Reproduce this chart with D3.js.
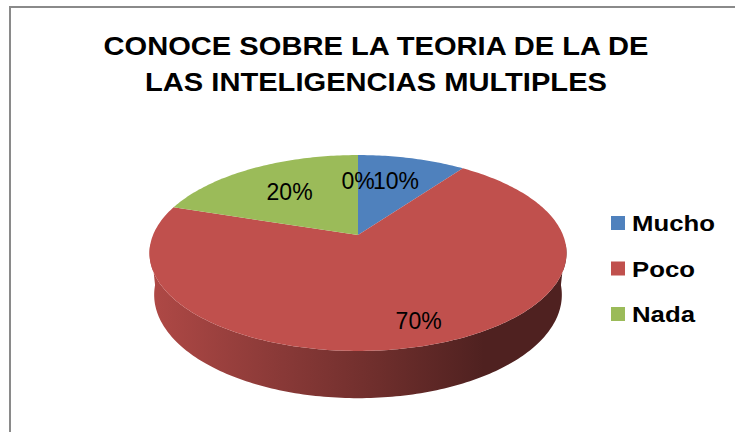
<!DOCTYPE html>
<html>
<head>
<meta charset="utf-8">
<script src="https://cdn.jsdelivr.net/npm/d3@7"></script>
<style>
  body { margin: 0; background: #fff; }
</style>
</head>
<body>
<div id="chart"></div>
<script>
// chart data
var categories = ["Mucho", "Poco", "Nada", ""]
var values = [10, 70, 20, 0]
var colors = ["#4f81bd", "#c0504d", "#9bbb59", "#8064a2"]
var titleLines = ["CONOCE SOBRE LA TEORIA DE LA DE", "LAS INTELIGENCIAS MULTIPLES"]

// where each data label sits, as a fraction of the radius
var labelR = [0.67, 0.82, 0.62, 0.64]

var width = 735, height = 432
var svg = d3.select("#chart").append("svg")
  .attr("width", width)
  .attr("height", height)

// chart area frame (runs off the right / bottom of the picture)
svg.append("rect")
  .attr("x", 10).attr("y", 7)
  .attr("width", 800).attr("height", 500)
  .attr("fill", "#fff")
  .attr("stroke", "#8a8a8a")
  .attr("stroke-width", 2)

// title
svg.selectAll("text.title")
  .data(titleLines)
  .enter()
  .append("text")
  .attr("class", "title")
  .attr("transform", function(d, i) { return "translate(376," + (55 + i * 36) + ") scale(1.12,1)" })
  .attr("text-anchor", "middle")
  .style("font-family", "'Liberation Sans', Arial, sans-serif")
  .style("font-weight", "bold")
  .style("font-size", "26px")
  .text(function(d) { return d })

// simple perspective camera for the 3D pie
var cx = 358, cy = 235
var dist = 4.83, tilt = 27.5 * Math.PI / 180, focal = 990, thick = 0.232

function project(a, r, h) {
  var u = r * Math.sin(a), v = r * Math.cos(a)
  var z = dist + v * Math.cos(tilt) - h * Math.sin(tilt)
  return [cx + focal * u / z, cy - focal * (v * Math.sin(tilt) + h * Math.cos(tilt)) / z]
}

function ring(a0, a1, h) {
  var n = Math.max(2, Math.ceil(Math.abs(a1 - a0) / (Math.PI / 180)))
  return d3.range(n + 1).map(function(i) { return project(a0 + (a1 - a0) * i / n, 1, h) })
}

var line = d3.line()
var total = d3.sum(values)
var pie = d3.pie().sort(null).value(function(d) { return d })
var arcs = pie(values)

// gradients for the side wall
var defs = svg.append("defs")
arcs.forEach(function(d, i) {
  var c = d3.color(colors[i])
  var g = defs.append("linearGradient")
    .attr("id", "side" + i)
    .attr("gradientUnits", "userSpaceOnUse")
    .attr("x1", cx - 210).attr("x2", cx + 210)
    .attr("y1", 0).attr("y2", 0)
  var stops = [[0, 0.25], [0.3, 0.9], [0.55, 1.55], [0.8, 2.5], [1, 2.5]]
  stops.forEach(function(s) {
    g.append("stop").attr("offset", s[0]).attr("stop-color", c.darker(s[1]).formatHex())
  })
})

// visible part of the outer wall
var front0 = 95 * Math.PI / 180, front1 = 265 * Math.PI / 180
svg.append("g").selectAll("path")
  .data(arcs)
  .enter()
  .append("path")
  .attr("fill", function(d, i) { return "url(#side" + i + ")" })
  .attr("d", function(d) {
    var s0 = Math.max(d.startAngle, front0), s1 = Math.min(d.endAngle, front1)
    if (s1 <= s0) return null
    return line(ring(s0, s1, 0).concat(ring(s1, s0, -thick))) + "Z"
  })

// top face
svg.append("g").selectAll("path")
  .data(arcs.filter(function(d) { return d.value > 0 }))
  .enter()
  .append("path")
  .attr("fill", function(d) { return colors[d.index] })
  .attr("d", function(d) {
    return line([[cx, cy]].concat(ring(d.startAngle, d.endAngle, 0))) + "Z"
  })

// data labels
var pct = d3.format(".0%")
svg.append("g").selectAll("text")
  .data(arcs)
  .enter()
  .append("text")
  .attr("x", function(d) { return project((d.startAngle + d.endAngle) / 2, labelR[d.index], 0)[0] })
  .attr("y", function(d) { return project((d.startAngle + d.endAngle) / 2, labelR[d.index], 0)[1] })
  .attr("text-anchor", "middle")
  .attr("dominant-baseline", "central")
  .style("font-family", "'Liberation Sans', Arial, sans-serif")
  .style("font-size", "23px")
  .text(function(d) { return pct(d.value / total) })

// legend
var legendItems = categories.map(function(c, i) { return { name: c, color: colors[i] } })
  .filter(function(d) { return d.name !== "" })
var legend = svg.append("g").selectAll("g")
  .data(legendItems)
  .enter()
  .append("g")
  .attr("transform", function(d, i) { return "translate(611," + (216 + i * 45.5) + ")" })

legend.append("rect")
  .attr("width", 14).attr("height", 14)
  .attr("fill", function(d) { return d.color })

legend.append("text")
  .attr("transform", "translate(21,15) scale(1.12,1)")
  .style("font-family", "'Liberation Sans', Arial, sans-serif")
  .style("font-weight", "bold")
  .style("font-size", "23px")
  .text(function(d) { return d.name })
</script>
</body>
</html>
